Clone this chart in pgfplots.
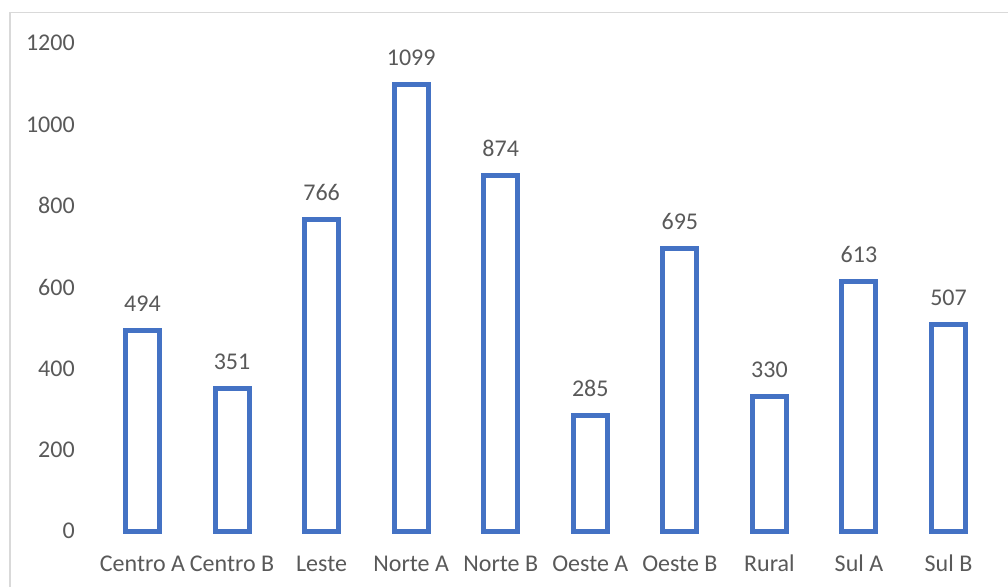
\documentclass[border=0pt]{standalone}
\usepackage{pgfplots}
\pgfplotsset{compat=1.18}
\usepackage{fontspec}
\setmainfont{Carlito}
\definecolor{barblue}{HTML}{4472C4}
\definecolor{txtgray}{HTML}{595959}
\definecolor{bordergray}{HTML}{D9D9D9}
\begin{document}
\begin{tikzpicture}[x=1pt,y=1pt]
\path[use as bounding box] (0,0) rectangle (1008,586);
\draw[bordergray, line width=1.3pt] (10,-10) -- (10,573.5) -- (1020,573.5);
\begin{axis}[
  at={(97.7pt,55pt)}, anchor=south west,
  scale only axis, width=895.6pt, height=488pt,
  xmin=-0.5, xmax=9.5, ymin=0, ymax=1200,
  axis line style={draw=none},
  tick style={draw=none},
  xtick=data,
  xticklabels={Centro A,Centro B,Leste,Norte A,Norte B,Oeste A,Oeste B,Rural,Sul A,Sul B},
  ytick={0,200,400,600,800,1000,1200},
  /pgf/number format/assume math mode=true,
  /pgf/number format/1000 sep={},
  font=\fontsize{24}{28}\selectfont,
  tick label style={txtgray, font=\fontsize{24}{28}\selectfont},
  xticklabel style={anchor=base, yshift=-36pt},
  yticklabel style={anchor=east, xshift=-19.5pt},
  ybar, bar width=34pt,
  nodes near coords,
  every node near coord/.append style={txtgray, anchor=south, yshift=13pt, font=\fontsize{24}{28}\selectfont, /pgf/number format/assume math mode=true},
  clip=false,
]
\addplot[draw=barblue, fill=white, line width=5pt] coordinates {
(0,494) (1,351) (2,766) (3,1099) (4,874) (5,285) (6,695) (7,330) (8,613) (9,507)};
\end{axis}
\end{tikzpicture}
\end{document}
